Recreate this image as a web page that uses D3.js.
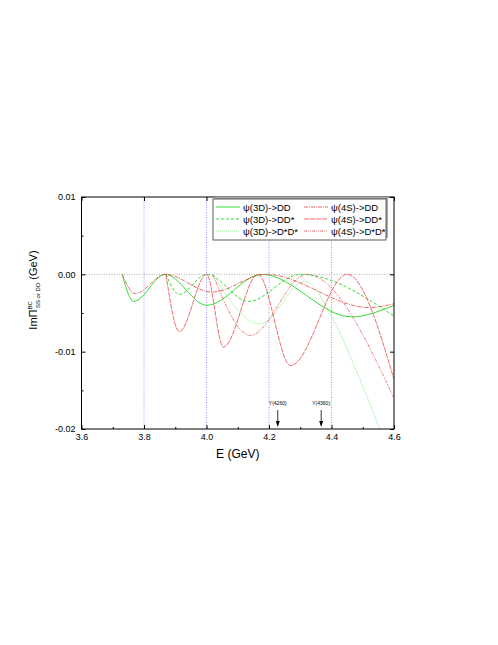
<!DOCTYPE html>
<html><head><meta charset="utf-8">
<script src="https://cdn.jsdelivr.net/npm/d3@7"></script>
<style>body{margin:0;background:#fff}text{font-family:"Liberation Sans",Arial,sans-serif}</style>
</head><body><svg id="c" width="498" height="645"></svg>
<script>
// [E (GeV), Im Pi (GeV)]
const psi3D_DD   = [[3.73,0],[3.767,-0.0035],[3.868,0],[4.001,-0.004],[4.177,0],[4.464,-0.0055],[4.6,-0.004]];
const psi3D_DDs  = [[3.87,0],[3.913,-0.0026],[4.0,0],[4.134,-0.0035],[4.30,0],[4.6,-0.0054]];
const psi3D_DsDs = [[4.02,0],[4.171,-0.0064],[4.315,-0.0009],[4.4,-0.0054],[4.48,-0.0125],[4.554,-0.02]];
const psi4S_DD   = [[3.73,0],[3.772,-0.0025],[3.868,0],[4.017,-0.0023],[4.19,0],[4.52,-0.0043],[4.6,-0.0038]];
const psi4S_DDs  = [[3.87,0],[3.913,-0.0074],[4.0,0],[4.054,-0.0094],[4.165,0],[4.269,-0.0118],[4.45,0],[4.6,-0.0136]];
const psi4S_DsDs = [[4.02,0],[4.14,-0.0079],[4.32,0],[4.6,-0.016]];
const xTicks = [3.6,3.8,4.0,4.2,4.4,4.6];
const yTicks = [0.01,0.0,-0.01,-0.02];
const yTickLabels = ["0.01","0.00","-0.01","-0.02"];
const refLines = [3.8,4.0,4.2,4.4];
const markers = [{E:4.228,label:"Y(4260)"},{E:4.367,label:"Y(4360)"}];

const svg=d3.select("#c");
const L=81.5,R=394,T=197,B=429;
const x=d3.scaleLinear().domain([3.6,4.6]).range([L,R]);
const y=d3.scaleLinear().domain([-0.02,0.01]).range([B,T]);
svg.append("clipPath").attr("id","cp").append("rect").attr("x",L).attr("y",T).attr("width",R-L).attr("height",B-T);

refLines.forEach(v=>svg.append("line").attr("x1",x(v)).attr("x2",x(v)).attr("y1",T).attr("y2",B)
  .attr("stroke","#8080ff").attr("stroke-width",0.8).attr("stroke-dasharray","1,1.5"));
svg.append("line").attr("x1",L).attr("x2",R).attr("y1",y(0)).attr("y2",y(0))
  .attr("stroke","#999").attr("stroke-width",0.8).attr("stroke-dasharray","1,1.5");

const line=d3.line().x(d=>x(d[0])).y(d=>y(d[1])).curve(d3.curveMonotoneX);
const series=[
 {d:psi3D_DD,c:"#33dd33",dash:null,w:1,name:"ψ(3D)->DD"},
 {d:psi3D_DDs,c:"#33dd33",dash:"3,2",w:1,name:"ψ(3D)->DD*"},
 {d:psi3D_DsDs,c:"#88ee88",dash:"1,1",w:1,name:"ψ(3D)->D*D*"},
 {d:psi4S_DD,c:"#ee4444",dash:"4,1,1,1",w:0.8,name:"ψ(4S)->DD"},
 {d:psi4S_DDs,c:"#ee4444",dash:"5,1",w:0.8,name:"ψ(4S)->DD*"},
 {d:psi4S_DsDs,c:"#ee5555",dash:"3,1,1,1,1,1",w:0.8,name:"ψ(4S)->D*D*"}];
const g=svg.append("g").attr("clip-path","url(#cp)");
series.forEach(s=>g.append("path").attr("d",line(s.d)).attr("fill","none").attr("stroke",s.c)
  .attr("stroke-width",s.w).attr("stroke-dasharray",s.dash));

svg.append("rect").attr("x",L).attr("y",T).attr("width",R-L).attr("height",B-T).attr("fill","none").attr("stroke","#000").attr("stroke-width",1);
const xa=svg.append("g").attr("transform",`translate(0,${B})`).call(d3.axisBottom(x).tickValues(xTicks).tickFormat(d3.format(".1f")).tickSize(-4).tickPadding(5));
svg.append("g").attr("transform",`translate(0,${B})`).call(d3.axisBottom(x).tickValues(d3.range(3.7,4.6,0.2)).tickFormat("").tickSize(-2)).select(".domain").remove();
svg.append("g").attr("transform",`translate(0,${T})`).call(d3.axisTop(x).tickValues(xTicks).tickFormat("").tickSize(-4)).select(".domain").remove();
const ya=svg.append("g").attr("transform",`translate(${L},0)`).call(d3.axisLeft(y).tickValues(yTicks).tickFormat((d,i)=>yTickLabels[i]).tickSize(-4).tickPadding(6));
svg.append("g").attr("transform",`translate(${L},0)`).call(d3.axisLeft(y).tickValues([0.005,-0.005,-0.015]).tickFormat("").tickSize(-2)).select(".domain").remove();
svg.append("g").attr("transform",`translate(${R},0)`).call(d3.axisRight(y).tickValues(yTicks).tickFormat("").tickSize(-4)).select(".domain").remove();
[xa,ya].forEach(a=>{a.selectAll("text").attr("font-size",9).attr("fill","#000");a.select(".domain").remove();});

svg.append("text").attr("x",(L+R)/2).attr("y",458).attr("text-anchor","middle").attr("font-size",12).text("E (GeV)");
const yl=svg.append("text").attr("transform","translate(37,290) rotate(-90)").attr("text-anchor","middle").attr("font-size",11);
yl.append("tspan").text("ImΠ");
yl.append("tspan").attr("font-size",6).attr("dy",-5).text("BC");
yl.append("tspan").attr("font-size",6).attr("dx",-7).attr("dy",8).text("SS or DD");
yl.append("tspan").attr("dy",-3).text(" (GeV)");

markers.forEach(m=>{
  const mx=x(m.E);
  svg.append("text").attr("x",mx).attr("y",405).attr("text-anchor","middle").attr("font-size",5).text(m.label);
  svg.append("line").attr("x1",mx).attr("x2",mx).attr("y1",410).attr("y2",425).attr("stroke","#000").attr("stroke-width",0.8);
  svg.append("path").attr("d",`M${mx-2},${421}L${mx+2},${421}L${mx},${427}Z`).attr("fill","#000");
});

const lx=213,ly=199,lw=173,lh=41;
svg.append("rect").attr("x",lx+2).attr("y",ly-2).attr("width",lw).attr("height",lh).attr("fill","#aaa");
svg.append("rect").attr("x",lx).attr("y",ly).attr("width",lw).attr("height",lh).attr("fill","#fff").attr("stroke","#333").attr("stroke-width",0.8);
series.forEach((s,i)=>{
  const col=i<3?0:1,row=i%3;
  const x0=lx+3+col*88,yy=ly+8+row*12;
  svg.append("line").attr("x1",x0).attr("x2",x0+24).attr("y1",yy).attr("y2",yy).attr("stroke",s.c).attr("stroke-width",s.w).attr("stroke-dasharray",s.dash);
  svg.append("text").attr("x",x0+27).attr("y",yy+3.5).attr("font-size",9.5).text(s.name);
});
</script></body></html>
